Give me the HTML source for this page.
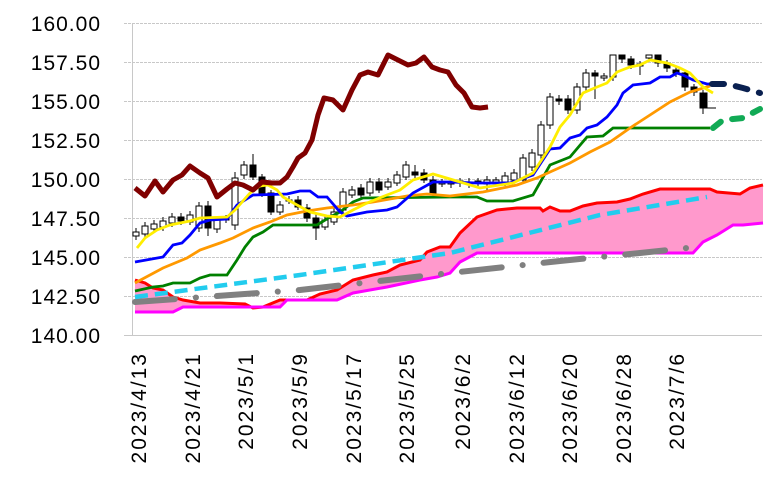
<!DOCTYPE html>
<html><head><meta charset="utf-8"><style>
html,body{margin:0;padding:0;background:#fff;}
svg{display:block;font-family:"Liberation Sans",sans-serif;}
</style></head><body>
<svg width="768" height="486" viewBox="0 0 768 486" xmlns="http://www.w3.org/2000/svg">
<g stroke="#c8c8c8" stroke-width="1" stroke-dasharray="3 1">
<line x1="124" y1="23.5" x2="762" y2="23.5"/>
<line x1="124" y1="62.5" x2="762" y2="62.5"/>
<line x1="124" y1="101.5" x2="762" y2="101.5"/>
<line x1="124" y1="140.5" x2="762" y2="140.5"/>
<line x1="124" y1="179.5" x2="762" y2="179.5"/>
<line x1="124" y1="218.5" x2="762" y2="218.5"/>
<line x1="124" y1="257.5" x2="762" y2="257.5"/>
<line x1="124" y1="296.5" x2="762" y2="296.5"/>
</g>
<line x1="124" y1="335.5" x2="762" y2="335.5" stroke="#c8c8c8"/>
<line x1="132.5" y1="23" x2="132.5" y2="336" stroke="#c8c8c8"/>
<g font-size="21" text-anchor="end" fill="#000" letter-spacing="1">
<text x="101" y="31">160.00</text>
<text x="101" y="70">157.50</text>
<text x="101" y="109">155.00</text>
<text x="101" y="148">152.50</text>
<text x="101" y="187">150.00</text>
<text x="101" y="226">147.50</text>
<text x="101" y="265">145.00</text>
<text x="101" y="304">142.50</text>
<text x="101" y="343">140.00</text>
</g>
<g font-size="21" text-anchor="end" fill="#000" letter-spacing="2">
<text transform="translate(146,352) rotate(-90)">2023/4/13</text>
<text transform="translate(200,352) rotate(-90)">2023/4/21</text>
<text transform="translate(253,352) rotate(-90)">2023/5/1</text>
<text transform="translate(307,352) rotate(-90)">2023/5/9</text>
<text transform="translate(361,352) rotate(-90)">2023/5/17</text>
<text transform="translate(414,352) rotate(-90)">2023/5/25</text>
<text transform="translate(470,352) rotate(-90)">2023/6/2</text>
<text transform="translate(524,352) rotate(-90)">2023/6/12</text>
<text transform="translate(577,352) rotate(-90)">2023/6/20</text>
<text transform="translate(631,352) rotate(-90)">2023/6/28</text>
<text transform="translate(684,352) rotate(-90)">2023/7/6</text>
</g>
<polygon fill="#ff99cc" points="135,280 145,283 153,288 163,290 173,297 183,300 200,303 220,303 245,304 253,308 263,307 280,300 307,300 320,294 337,290 353,280 373,275 387,272 400,265 420,260 427,252 440,247 450,247 460,233 477,217 497,210 517,208 540,208 543,211 550,207 560,211 570,211 583,206 597,203 617,202 630,199 643,194 660,189 683,189 710,189 717,192 740,194 750,188 763,185 763,223 743,225 733,225 717,235 703,242 693,253 477,253 460,262 450,273 437,277 420,280 387,287 353,293 337,300 287,300 280,307 183,307 173,312 135,312"/>
<polyline fill="none" stroke="#ff0000" stroke-width="3" points="135,280 145,283 153,288 163,290 173,297 183,300 200,303 220,303 245,304 253,308 263,307 280,300 307,300 320,294 337,290 353,280 373,275 387,272 400,265 420,260 427,252 440,247 450,247 460,233 477,217 497,210 517,208 540,208 543,211 550,207 560,211 570,211 583,206 597,203 617,202 630,199 643,194 660,189 683,189 710,189 717,192 740,194 750,188 763,185"/>
<polyline fill="none" stroke="#ff00ff" stroke-width="3" points="135,312 173,312 183,307 280,307 287,300 337,300 353,293 387,287 420,280 437,277 450,273 460,262 477,253 693,253 703,242 717,235 733,225 743,225 763,223"/>
<polyline fill="none" stroke="#808080" stroke-width="6" stroke-linecap="round" stroke-dasharray="40 21 0.1 21" points="135,302 300,290 450,273 560,261 640,253 706,246"/>
<polyline fill="none" stroke="#22ccee" stroke-width="4.5" stroke-dasharray="13 7" points="135,297 300,275 450,253 600,215 707,197"/>
<g stroke="#000" stroke-width="1">
<line x1="136" y1="228" x2="136" y2="240"/><rect x="133" y="232" width="6" height="4" fill="#fff"/>
<line x1="145" y1="222" x2="145" y2="238"/><rect x="142" y="226" width="6" height="8" fill="#fff"/>
<line x1="154" y1="220" x2="154" y2="233"/><rect x="151" y="224" width="6" height="5" fill="#fff"/>
<line x1="163" y1="217" x2="163" y2="231"/><rect x="160" y="221" width="6" height="6" fill="#fff"/>
<line x1="172" y1="213" x2="172" y2="227"/><rect x="169" y="217" width="6" height="6" fill="#fff"/>
<line x1="181" y1="213" x2="181" y2="225"/><rect x="178" y="217" width="6" height="4" fill="#000"/>
<line x1="190" y1="211" x2="190" y2="225"/><rect x="187" y="215" width="6" height="7" fill="#fff"/>
<line x1="199" y1="202" x2="199" y2="232"/><rect x="196" y="206" width="6" height="22" fill="#fff"/>
<line x1="208" y1="201" x2="208" y2="236"/><rect x="205" y="206" width="6" height="22" fill="#000"/>
<line x1="217" y1="216" x2="217" y2="233"/><rect x="214" y="220" width="6" height="9" fill="#fff"/>
<line x1="226" y1="215" x2="226" y2="223"/><rect x="223" y="219" width="6" height="1" fill="#fff"/>
<line x1="235" y1="172" x2="235" y2="230"/><rect x="232" y="178" width="6" height="47" fill="#fff"/>
<line x1="244" y1="161" x2="244" y2="179"/><rect x="241" y="165" width="6" height="10" fill="#fff"/>
<line x1="253" y1="154" x2="253" y2="180"/><rect x="250" y="165" width="6" height="12" fill="#000"/>
<line x1="262" y1="174" x2="262" y2="197"/><rect x="259" y="177" width="6" height="16" fill="#000"/>
<line x1="271" y1="190" x2="271" y2="215"/><rect x="268" y="193" width="6" height="19" fill="#000"/>
<line x1="280" y1="201" x2="280" y2="215"/><rect x="277" y="205" width="6" height="7" fill="#fff"/>
<line x1="289" y1="196" x2="289" y2="204"/><rect x="286" y="200" width="6" height="1" fill="#fff"/>
<line x1="298" y1="196" x2="298" y2="210"/><rect x="295" y="200" width="6" height="7" fill="#000"/>
<line x1="307" y1="204" x2="307" y2="222"/><rect x="304" y="208" width="6" height="10" fill="#000"/>
<line x1="316" y1="214" x2="316" y2="240"/><rect x="313" y="218" width="6" height="10" fill="#000"/>
<line x1="325" y1="216" x2="325" y2="230"/><rect x="322" y="220" width="6" height="7" fill="#fff"/>
<line x1="334" y1="208" x2="334" y2="225"/><rect x="331" y="212" width="6" height="10" fill="#fff"/>
<line x1="343" y1="188" x2="343" y2="213"/><rect x="340" y="192" width="6" height="18" fill="#fff"/>
<line x1="352" y1="186" x2="352" y2="198"/><rect x="349" y="190" width="6" height="5" fill="#fff"/>
<line x1="361" y1="184" x2="361" y2="198"/><rect x="358" y="188" width="6" height="7" fill="#000"/>
<line x1="370" y1="178" x2="370" y2="196"/><rect x="367" y="182" width="6" height="11" fill="#fff"/>
<line x1="379" y1="178" x2="379" y2="193"/><rect x="376" y="182" width="6" height="8" fill="#000"/>
<line x1="388" y1="178" x2="388" y2="190"/><rect x="385" y="182" width="6" height="5" fill="#fff"/>
<line x1="397" y1="171" x2="397" y2="186"/><rect x="394" y="175" width="6" height="8" fill="#fff"/>
<line x1="406" y1="161" x2="406" y2="180"/><rect x="403" y="165" width="6" height="12" fill="#fff"/>
<line x1="415" y1="165" x2="415" y2="178"/><rect x="412" y="172" width="6" height="3" fill="#000"/>
<line x1="424" y1="169" x2="424" y2="183"/><rect x="421" y="173" width="6" height="7" fill="#000"/>
<line x1="433" y1="176" x2="433" y2="196"/><rect x="430" y="180" width="6" height="13" fill="#000"/>
<line x1="442" y1="179" x2="442" y2="187"/><rect x="439" y="182" width="6" height="2" fill="#fff"/>
<line x1="451" y1="179" x2="451" y2="188"/><rect x="448" y="182" width="6" height="2" fill="#fff"/>
<line x1="460" y1="178" x2="460" y2="187"/><rect x="457" y="181" width="6" height="2" fill="#000"/>
<line x1="469" y1="178" x2="469" y2="188"/><rect x="466" y="182" width="6" height="2" fill="#fff"/>
<line x1="478" y1="178" x2="478" y2="187"/><rect x="475" y="181" width="6" height="2" fill="#000"/>
<line x1="487" y1="176" x2="487" y2="190"/><rect x="484" y="180" width="6" height="4" fill="#fff"/>
<line x1="496" y1="177" x2="496" y2="186"/><rect x="493" y="180" width="6" height="2" fill="#fff"/>
<line x1="505" y1="172" x2="505" y2="186"/><rect x="502" y="176" width="6" height="6" fill="#fff"/>
<line x1="514" y1="169" x2="514" y2="184"/><rect x="511" y="173" width="6" height="7" fill="#fff"/>
<line x1="523" y1="154" x2="523" y2="184"/><rect x="520" y="158" width="6" height="22" fill="#fff"/>
<line x1="532" y1="149" x2="532" y2="171"/><rect x="529" y="153" width="6" height="14" fill="#fff"/>
<line x1="541" y1="121" x2="541" y2="159"/><rect x="538" y="125" width="6" height="30" fill="#fff"/>
<line x1="550" y1="93" x2="550" y2="129"/><rect x="547" y="97" width="6" height="28" fill="#fff"/>
<line x1="559" y1="95" x2="559" y2="105"/><rect x="556" y="99" width="6" height="2" fill="#000"/>
<line x1="568" y1="95" x2="568" y2="114"/><rect x="565" y="99" width="6" height="11" fill="#000"/>
<line x1="577" y1="83" x2="577" y2="114"/><rect x="574" y="87" width="6" height="23" fill="#fff"/>
<line x1="586" y1="69" x2="586" y2="91"/><rect x="583" y="73" width="6" height="14" fill="#fff"/>
<line x1="595" y1="70" x2="595" y2="99"/><rect x="592" y="73" width="6" height="3" fill="#000"/>
<line x1="604" y1="73" x2="604" y2="81"/><rect x="601" y="76" width="6" height="2" fill="#fff"/>
<line x1="613" y1="55" x2="613" y2="81"/><rect x="610" y="55" width="6" height="22" fill="#fff"/>
<line x1="622" y1="55" x2="622" y2="63"/><rect x="619" y="55" width="6" height="4" fill="#000"/>
<line x1="631" y1="56" x2="631" y2="69"/><rect x="628" y="59" width="6" height="6" fill="#000"/>
<line x1="640" y1="61" x2="640" y2="75"/><rect x="637" y="64" width="6" height="2" fill="#fff"/>
<line x1="649" y1="55" x2="649" y2="62"/><rect x="646" y="55" width="6" height="3" fill="#fff"/>
<line x1="658" y1="55" x2="658" y2="67"/><rect x="655" y="55" width="6" height="8" fill="#000"/>
<line x1="667" y1="60" x2="667" y2="72"/><rect x="664" y="63" width="6" height="5" fill="#000"/>
<line x1="676" y1="66" x2="676" y2="77"/><rect x="673" y="70" width="6" height="3" fill="#000"/>
<line x1="685" y1="70" x2="685" y2="91"/><rect x="682" y="73" width="6" height="14" fill="#000"/>
<line x1="694" y1="84" x2="694" y2="96"/><rect x="691" y="87" width="6" height="5" fill="#000"/>
<line x1="703" y1="90" x2="703" y2="114"/><rect x="700" y="93" width="7" height="15" fill="#000"/>
<line x1="705" y1="108" x2="716" y2="108"/>
</g>
<polyline fill="none" stroke="#008000" stroke-width="2.8" points="135,291 153,287 163,286 173,283 190,283 200,278 210,275 227,275 237,260 245,247 253,237 263,232 273,225 317,225 330,217 340,212 353,202 363,198 450,197 477,197 487,201 513,201 533,195 550,165 570,157 587,137 603,136 613,128 710,128"/>
<polyline fill="none" stroke="#ff9900" stroke-width="2.8" points="135,283 163,268 187,258 200,250 220,243 233,238 253,228 270,222 287,215 307,211 327,208 353,205 373,202 407,196 427,194 450,196 483,192 517,185 537,178 550,172 570,163 590,152 610,142 630,128 650,115 670,102 690,92 710,86"/>
<polyline fill="none" stroke="#0000ff" stroke-width="2.8" points="135,262 163,257 173,245 182,243 190,235 200,223 210,220 227,219 237,205 253,195 287,194 300,191 310,191 318,197 327,197 340,212 347,216 367,212 387,210 397,207 413,193 433,182 450,182 477,183 510,183 533,175 550,149 560,148 570,138 580,135 587,128 597,125 607,117 617,105 623,93 633,85 650,83 660,77 670,77 677,73 683,75 693,80 707,84 710,84"/>
<polyline fill="none" stroke="#ffee00" stroke-width="2.8" points="137,248 145,238 157,230 170,225 190,221 200,218 227,217 235,210 250,193 260,186 268,185 277,190 283,197 297,205 310,212 327,216 340,217 353,210 367,203 387,195 400,190 413,180 433,174 450,179 480,188 513,183 533,173 550,147 560,127 570,115 583,93 597,87 607,83 617,72 630,67 640,65 650,60 667,63 680,68 690,73 703,87 713,93"/>
<polyline fill="none" stroke="#800000" stroke-width="5" stroke-linejoin="round" points="135,188 145,196 155,181 163,192 173,180 182,175 190,166 200,173 208,178 217,197 227,189 235,183 243,185 253,190 262,182 272,183 280,183 287,177 293,167 298,158 305,153 312,140 318,115 324,98 333,100 343,110 352,90 360,75 368,72 378,75 388,55 398,60 408,65 416,63 424,57 432,67 440,70 448,72 456,85 464,93 472,107 480,108 488,107"/>
<polyline fill="none" stroke="#0a2050" stroke-width="6" stroke-linecap="round" stroke-dasharray="12 12" points="712,84 727,84 743,88 760,93"/>
<polyline fill="none" stroke="#11aa55" stroke-width="6" stroke-linecap="round" stroke-dasharray="10 12" points="713,128 723,120 743,118 760,109"/>
</svg>
</body></html>
